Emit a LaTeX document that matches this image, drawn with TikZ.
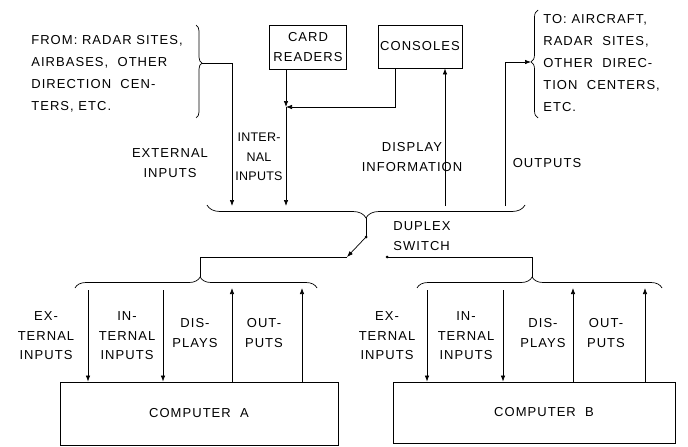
\documentclass[tikz,border=0pt]{standalone}
\usepackage{fontspec}
\setmainfont[LetterSpace=8]{Liberation Sans}
\usetikzlibrary{arrows.meta,positioning,decorations.pathreplacing}

\begin{document}
\begin{tikzpicture}[x=1pt, y=-1pt, line width=0.7pt,
  every node/.style={font=\fontsize{13}{19.5}\selectfont, inner sep=0pt},
  box/.style={draw, line width=0.8pt, align=center},
  lbl/.style={align=center},
  blk/.style={align=left, anchor=west, font=\fontsize{13}{22}\selectfont},
  arr/.style={-{Latex[length=6pt,width=4.5pt]}},
  brc/.style={decorate}
]
\useasboundingbox (0,0) rectangle (688,447);
% sources, sinks and the two machines
\node[box, minimum width=77pt, minimum height=44pt] (cardrd) at (308,47) {CARD\\READERS};
\node[box, minimum width=84pt, minimum height=43pt] (consl) at (420,46.5) {CONSOLES};
\node[box, minimum width=278pt, minimum height=63pt] (compA) at (199,413.5) {COMPUTER\ \ A};
\node[box, minimum width=282pt, minimum height=61pt] (compB) at (534,412.5) {\hspace{20pt}COMPUTER\ \ B};

\node[blk] (srcs) at (31,74) {FROM: RADAR SITES,\\AIRBASES, \ OTHER\\DIRECTION \ CEN-\\TERS, ETC.};
\node[blk] (dests) at (543,63) {TO: AIRCRAFT,\\RADAR \ SITES,\\OTHER \ DIREC-\\TION \ CENTERS,\\ETC.};

\node[lbl] (extlbl) at (170,163) {EXTERNAL\\INPUTS};
\node[lbl, font=\fontsize{12.5}{19.5}\selectfont\addfontfeature{LetterSpace=2}] (intlbl) at (259,157) {INTER-\\NAL\\INPUTS};
\node[lbl] (displbl) at (412,157) {DISPLAY\\INFORMATION};
\node[lbl] (outlbl) at (547,163) {OUTPUTS};
\node[align=left, anchor=west] (swlbl) at (393,236) {DUPLEX\\SWITCH};

\node[lbl] (aExt) at (46,336) {EX-\\TERNAL\\INPUTS};
\node[lbl] (aInt) at (127,336) {IN-\\TERNAL\\INPUTS};
\node[lbl] (aDis) at (195,333) {DIS-\\PLAYS};
\node[lbl] (aOut) at (264,333) {OUT-\\PUTS};
\node[lbl] (bExt) at (387,336) {EX-\\TERNAL\\INPUTS};
\node[lbl] (bInt) at (466,336) {IN-\\TERNAL\\INPUTS};
\node[lbl] (bDis) at (543,333) {DIS-\\PLAYS};
\node[lbl] (bOut) at (606,333) {OUT-\\PUTS};

% braces
\draw[brc, decoration={brace, amplitude=6pt, aspect=0.41}] (196,25) -- (196,118);
\draw[brc, decoration={brace, amplitude=7pt, aspect=0.52}] (538,118) -- (538,10);
\draw[brc, decoration={brace, amplitude=13pt}] (525,205) -- (207,205);
\draw[brc, decoration={brace, amplitude=11pt, aspect=0.517}] (75,288) -- (317,288);
\draw[brc, decoration={brace, amplitude=11pt, aspect=0.47}] (417,288) -- (662,288);

\coordinate (srcTip) at (202,63);
\coordinate (dstTip) at (531,62);
\coordinate (busTip) at (366,218);
\coordinate (tipA) at (200,277);
\coordinate (tipB) at (532,277);

% upper bus
\coordinate (extIn) at (232,206);
\coordinate (joinIn) at (286,107);
\coordinate (dispOut) at (445,206);
\coordinate (outOut) at (505,206);
\draw[arr] (srcTip) -| (extIn);
\draw[arr] (cardrd.south -| joinIn) -- (joinIn);
\draw[arr] ([xshift=-25pt]consl.south) |- (joinIn);
\draw[arr] (joinIn) -- (joinIn |- extIn);
\draw[arr] (dispOut) -- (dispOut |- consl.south);
\draw[arr] (outOut) |- (dstTip);

% duplex switch
\coordinate (swPivot) at (366,237);
\coordinate (swArm) at (347,257);
\coordinate (swB) at (387,257);
\draw (busTip) -- (swPivot);
\draw[arr] (swPivot) -- (swArm);
\draw (swArm) -| (tipA);
\draw (swB) -| (tipB);
\fill (swPivot) circle (1.5pt);
\fill (swB) circle (1.5pt);

% lines to the computers
\foreach \x [count=\i] in {88,163} {
  \coordinate (aIn\i) at (\x,290);
  \draw[arr] (aIn\i) -- (aIn\i |- compA.north);
}
\foreach \x [count=\i] in {232,302} {
  \coordinate (aOt\i) at (\x,288);
  \draw[arr] (aOt\i |- compA.north) -- (aOt\i);
}
\foreach \x [count=\i] in {427,503} {
  \coordinate (bIn\i) at (\x,290);
  \draw[arr] (bIn\i) -- (bIn\i |- compB.north);
}
\foreach \x [count=\i] in {573,645} {
  \coordinate (bOt\i) at (\x,288);
  \draw[arr] (bOt\i |- compB.north) -- (bOt\i);
}
\end{tikzpicture}
\end{document}
